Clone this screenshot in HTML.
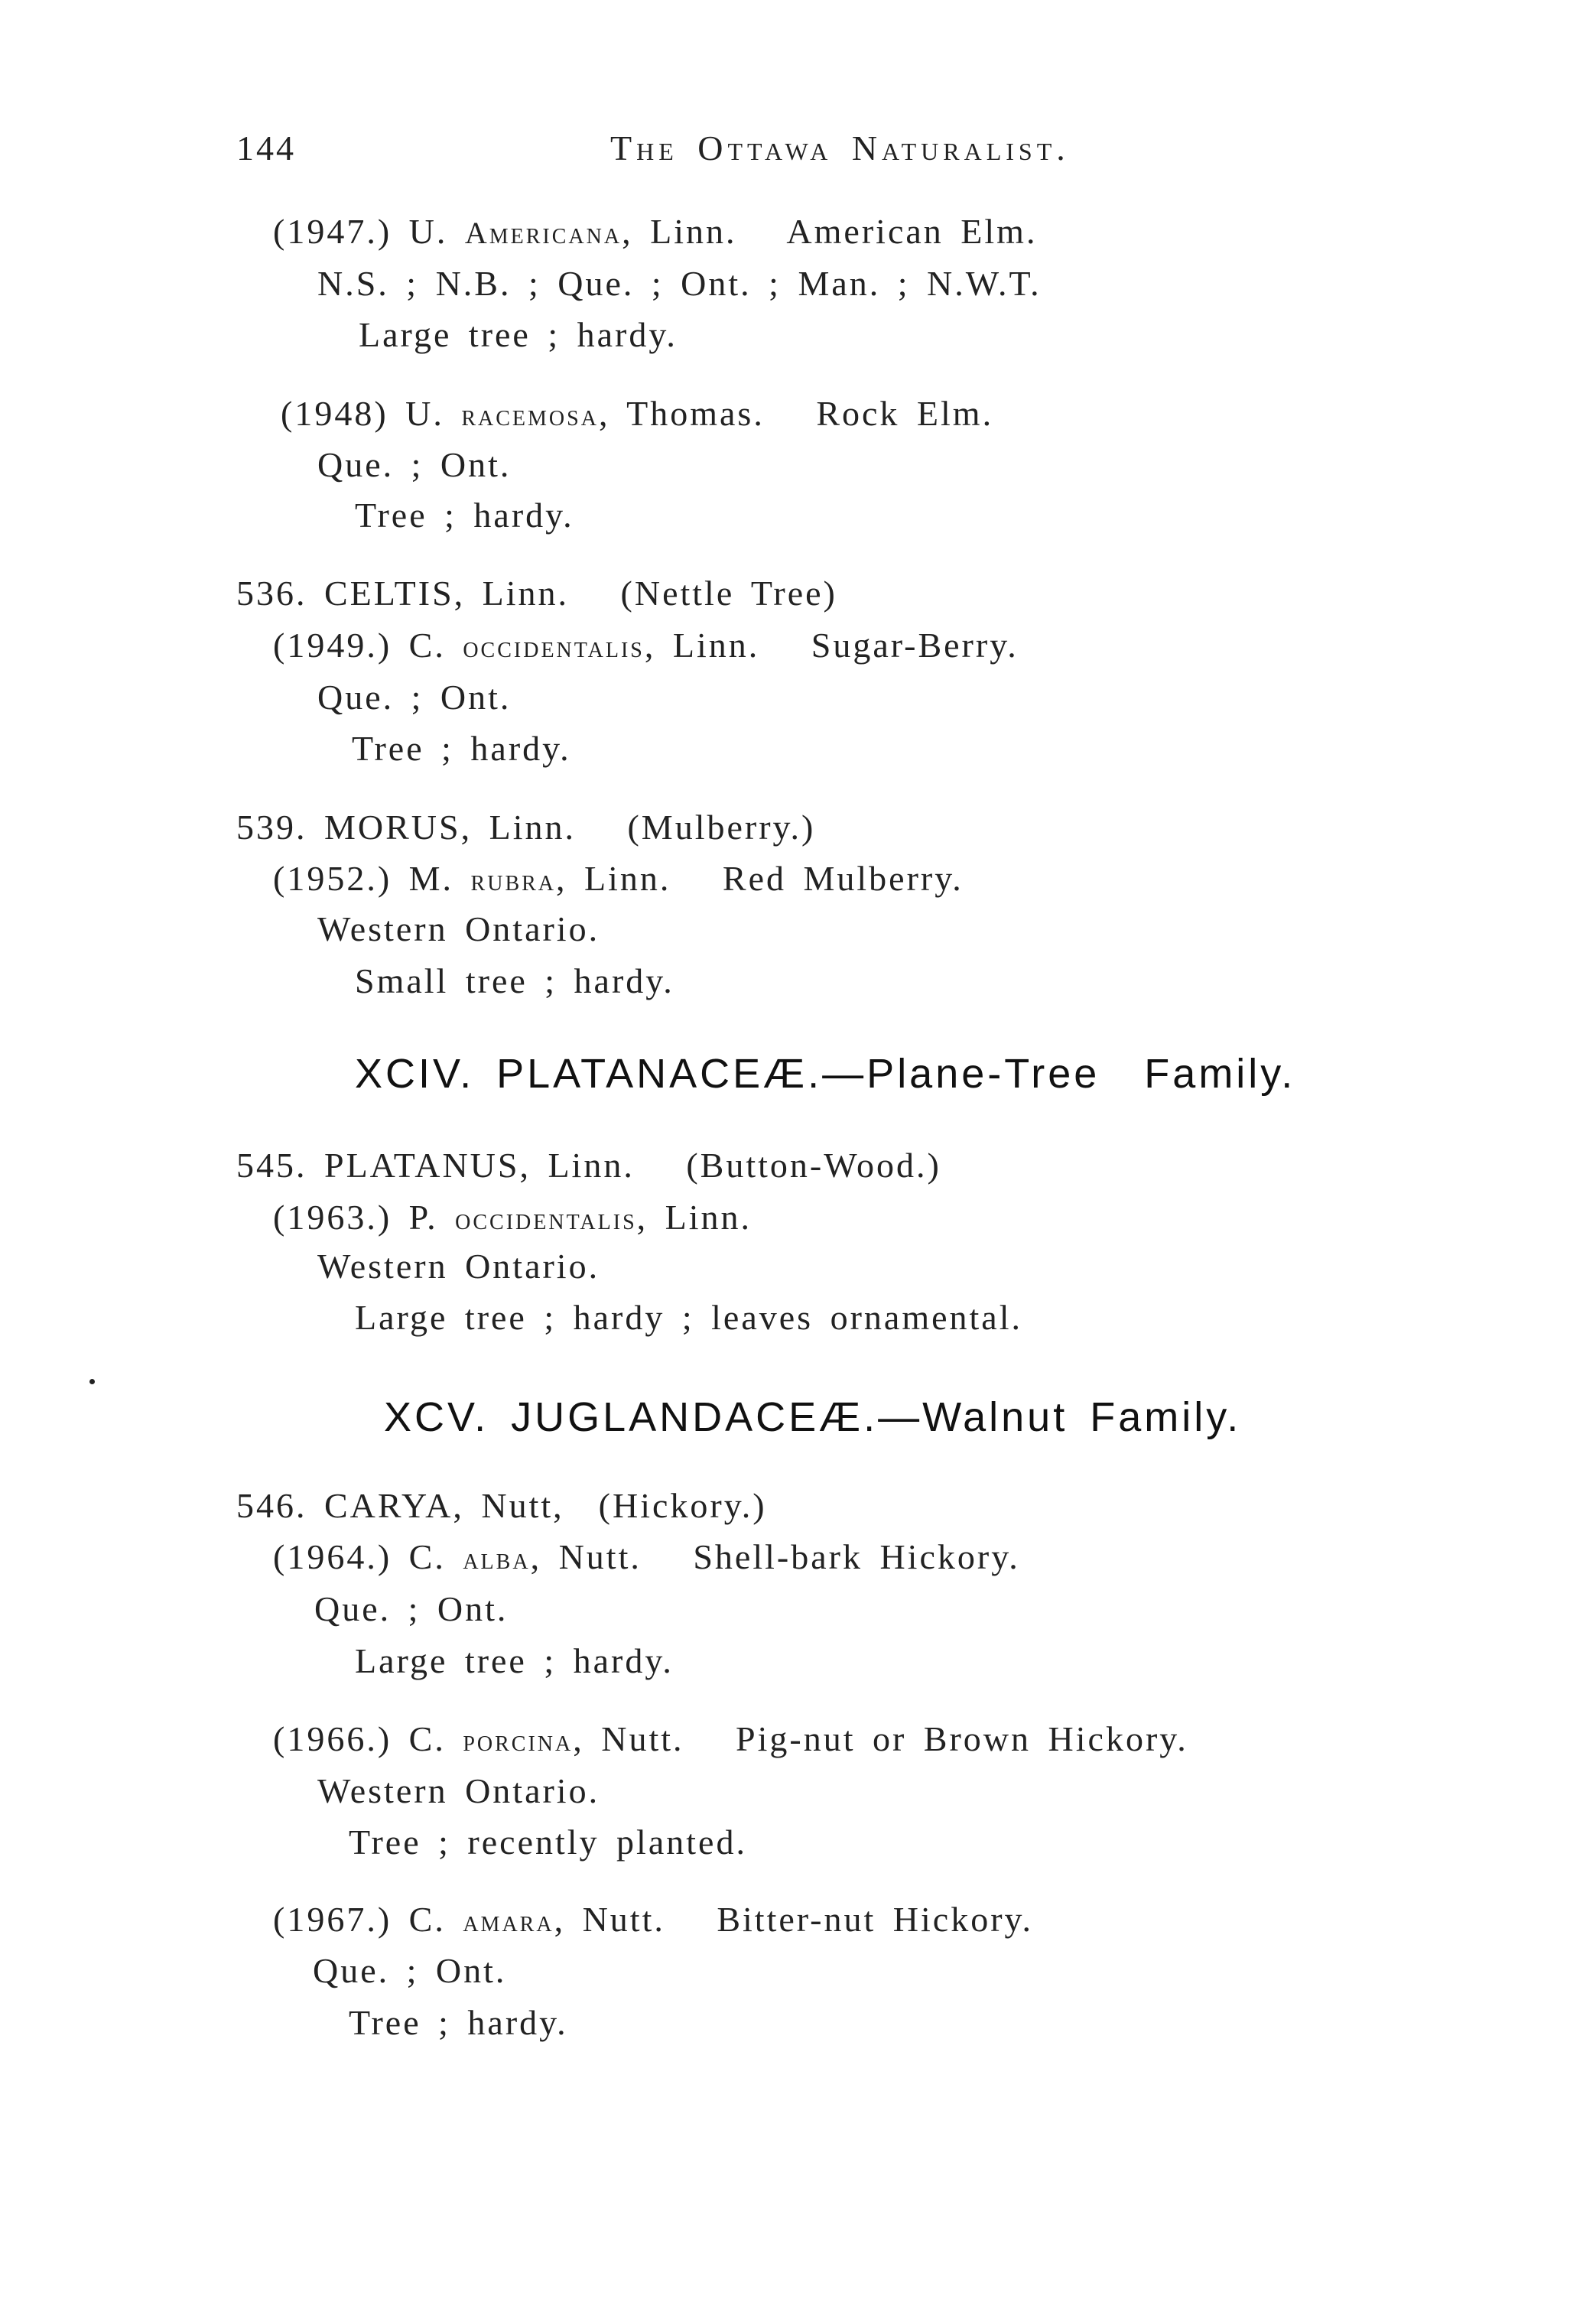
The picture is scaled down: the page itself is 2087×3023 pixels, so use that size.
<!DOCTYPE html>
<html><head><meta charset="utf-8"><style>
html,body{margin:0;padding:0;background:#fff;}
body{width:2087px;height:3023px;position:relative;overflow:hidden;font-family:"Liberation Serif",serif;color:#222;}
.l{position:absolute;white-space:nowrap;font-size:46px;line-height:46px;letter-spacing:3px;word-spacing:8px;}
.sc{font-variant:small-caps;font-size:40px;letter-spacing:3px;}
.h{position:absolute;white-space:nowrap;font-family:"Liberation Sans",sans-serif;font-size:54px;line-height:54px;letter-spacing:4px;word-spacing:10px;color:#111;}
</style></head><body>
<div class="l" style="left:309px;top:171px;">144</div>
<div class="l" style="left:798px;top:171px;font-variant:small-caps;letter-spacing:6px;">The Ottawa Naturalist.</div>

<div class="l" style="left:357px;top:280px;">(1947.) U. <span class="sc">Americana</span>, Linn. &nbsp; American Elm.</div>
<div class="l" style="left:415px;top:348px;">N.S. ; N.B. ; Que. ; Ont. ; Man. ; N.W.T.</div>
<div class="l" style="left:469px;top:415px;">Large tree ; hardy.</div>

<div class="l" style="left:367px;top:518px;">(1948) U. <span class="sc">racemosa</span>, Thomas. &nbsp; Rock Elm.</div>
<div class="l" style="left:415px;top:585px;">Que. ; Ont.</div>
<div class="l" style="left:464px;top:651px;">Tree ; hardy.</div>

<div class="l" style="left:309px;top:753px;">536. CELTIS, Linn. &nbsp; (Nettle Tree)</div>
<div class="l" style="left:357px;top:821px;">(1949.) C. <span class="sc">occidentalis</span>, Linn. &nbsp; Sugar-Berry.</div>
<div class="l" style="left:415px;top:889px;">Que. ; Ont.</div>
<div class="l" style="left:460px;top:956px;">Tree ; hardy.</div>

<div class="l" style="left:309px;top:1059px;">539. MORUS, Linn. &nbsp; (Mulberry.)</div>
<div class="l" style="left:357px;top:1126px;">(1952.) M. <span class="sc">rubra</span>, Linn. &nbsp; Red Mulberry.</div>
<div class="l" style="left:415px;top:1192px;">Western Ontario.</div>
<div class="l" style="left:464px;top:1260px;">Small tree ; hardy.</div>

<div class="h" style="left:464px;top:1377px;">XCIV. PLATANACEÆ.—Plane-Tree &nbsp;Family.</div>

<div class="l" style="left:309px;top:1501px;">545. PLATANUS, Linn. &nbsp; (Button-Wood.)</div>
<div class="l" style="left:357px;top:1569px;">(1963.) P. <span class="sc">occidentalis</span>, Linn.</div>
<div class="l" style="left:415px;top:1633px;">Western Ontario.</div>
<div class="l" style="left:464px;top:1700px;">Large tree ; hardy ; leaves ornamental.</div>

<div style="position:absolute;left:117px;top:1803px;width:7px;height:7px;border-radius:50%;background:#222;"></div>

<div class="h" style="left:502px;top:1826px;">XCV. JUGLANDACEÆ.—Walnut Family.</div>

<div class="l" style="left:309px;top:1946px;">546. CARYA, Nutt, &nbsp;(Hickory.)</div>
<div class="l" style="left:357px;top:2013px;">(1964.) C. <span class="sc">alba</span>, Nutt. &nbsp; Shell-bark Hickory.</div>
<div class="l" style="left:411px;top:2081px;">Que. ; Ont.</div>
<div class="l" style="left:464px;top:2149px;">Large tree ; hardy.</div>

<div class="l" style="left:357px;top:2251px;">(1966.) C. <span class="sc">porcina</span>, Nutt. &nbsp; Pig-nut or Brown Hickory.</div>
<div class="l" style="left:415px;top:2319px;">Western Ontario.</div>
<div class="l" style="left:456px;top:2386px;">Tree ; recently planted.</div>

<div class="l" style="left:357px;top:2487px;">(1967.) C. <span class="sc">amara</span>, Nutt. &nbsp; Bitter-nut Hickory.</div>
<div class="l" style="left:409px;top:2554px;">Que. ; Ont.</div>
<div class="l" style="left:456px;top:2622px;">Tree ; hardy.</div>
</body></html>
